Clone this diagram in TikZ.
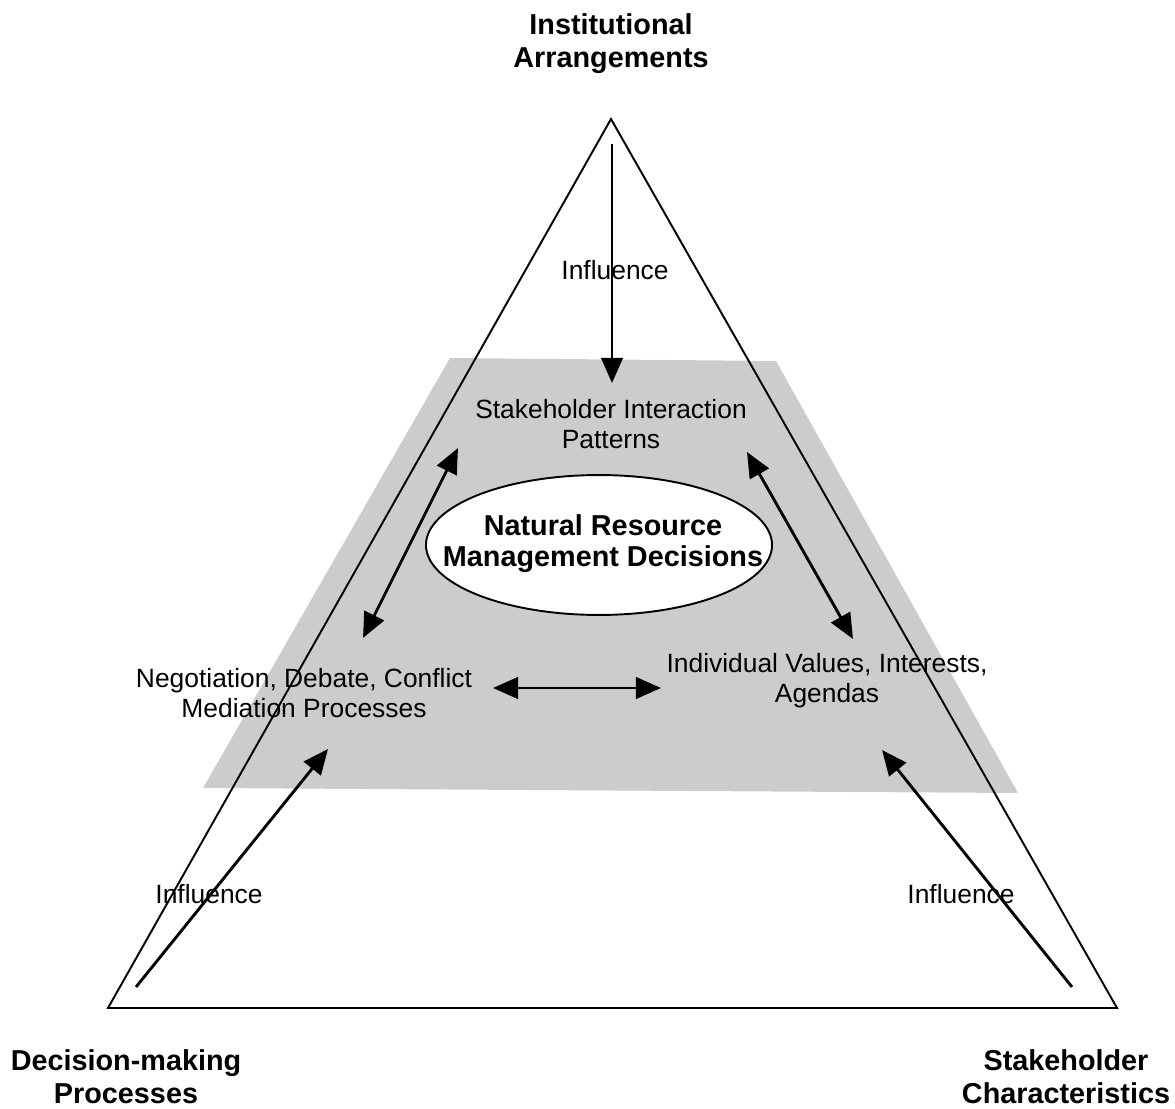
\documentclass[tikz,border=0pt]{standalone}
\usepackage{fontspec}
\setmainfont{Liberation Sans}
\usetikzlibrary{arrows.meta,shapes.geometric}
\definecolor{band}{HTML}{CCCCCC}
\begin{document}
\begin{tikzpicture}[x=0.41667pt,y=-0.41667pt,
 lbl/.style={font=\fontsize{11}{12.5}\selectfont, align=center, inner sep=0pt},
 ttl/.style={font=\fontsize{12}{13.75}\selectfont\bfseries, align=center, inner sep=0pt},
 edge/.style={line width=0.8pt, line join=miter},
 arr/.style={line width=1.2pt, -{Triangle[length=10.5pt,width=9pt]}},
 darr/.style={line width=1.2pt, {Triangle[length=10.5pt,width=9pt]}-{Triangle[length=10.5pt,width=9pt]}}]
\useasboundingbox (0,0) rectangle (1175,1109);
% grey band
\fill[band] (450,358) -- (776,361) -- (1018,793) -- (203,788) -- cycle;
% ellipse
\node[ellipse, draw, line width=0.8pt, fill=white, minimum width=144.2pt, minimum height=58.3pt, inner sep=0pt] (nrmshape) at (599,545) {};
\node[ttl, font=\fontsize{12}{12.9}\selectfont\bfseries] (nrm) at (603,544) {Natural Resource\\Management Decisions};
% titles
\node[ttl] (inst) at (611,44) {Institutional\\Arrangements};
\node[ttl] (dec) at (126,1077) {Decision-making\\Processes};
\node[ttl] (stc) at (1066,1077) {Stakeholder\\Characteristics};
% labels
\node[lbl] (sip) at (611,424) {Stakeholder Interaction\\Patterns};
\node[lbl] (neg) at (304,693) {Negotiation, Debate, Conflict\\Mediation Processes};
\node[lbl] (ind) at (827,681) {Individual Values, Interests,\\Agendas};
\node[lbl] (inf1) at (615,270) {Influence};
\node[lbl] (inf2) at (209,894) {Influence};
\node[lbl] (inf3) at (961,894) {Influence};
% triangle
\coordinate (apex) at (611,119);
\coordinate (bl) at (108,1008);
\coordinate (br) at (1117,1008);
\draw[edge] (apex) -- (bl) -- (br) -- cycle;
% arrow ends
\coordinate (ia1) at (612,144);
\coordinate (ia2) at (612,383);
\coordinate (ld1) at (458,448);
\coordinate (ld2) at (363,638);
\coordinate (rd1) at (747,452);
\coordinate (rd2) at (853,639);
\coordinate (hd1) at (493,688);
\coordinate (hd2) at (661,688);
\coordinate (ll1) at (136,987);
\coordinate (ll2) at (328,749);
\coordinate (lr1) at (1072,987);
\coordinate (lr2) at (882,750);
% arrows
\draw[arr] (ia1) -- (ia2);
\draw[darr] (ld1) -- (ld2);
\draw[darr] (rd1) -- (rd2);
\draw[darr] (hd1) -- (hd2);
\draw[arr] (ll1) -- (ll2);
\draw[arr] (lr1) -- (lr2);
\end{tikzpicture}
\end{document}
